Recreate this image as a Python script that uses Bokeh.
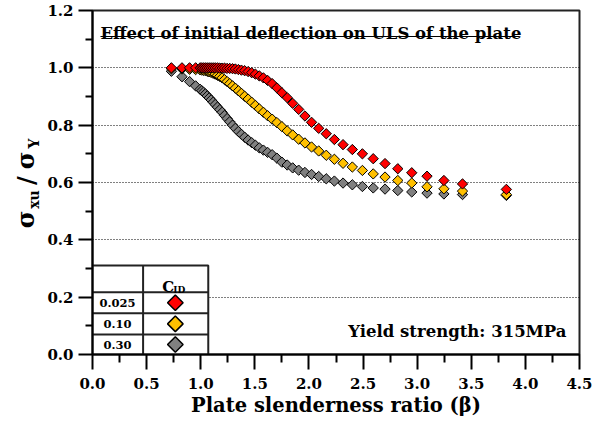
import math
from bokeh.plotting import figure
from bokeh.layouts import row
from bokeh.models import Range1d, FixedTicker, PrintfTickFormatter, Label
from bokeh.embed import file_html
from bokeh.resources import INLINE

# ---------------- data ----------------
beta = [0.729, 0.827, 0.897, 0.953, 0.995, 1.010, 1.026, 1.043, 1.060, 1.078,
        1.096, 1.115, 1.134, 1.155, 1.176, 1.198, 1.220, 1.244, 1.268, 1.294,
        1.320, 1.348, 1.376, 1.406, 1.438, 1.471, 1.505, 1.541, 1.579, 1.618,
        1.660, 1.704, 1.750, 1.799, 1.850, 1.905, 1.963, 2.024, 2.090, 2.160,
        2.235, 2.315, 2.401, 2.494, 2.594, 2.703, 2.821, 2.950, 3.091, 3.247,
        3.419, 3.824]

ratio_c025 = [1.000, 1.000, 1.000, 1.000, 1.000, 1.000, 1.000, 1.000, 1.000, 1.000,
              1.000, 1.000, 1.000, 1.000, 0.999, 0.999, 0.999, 0.998, 0.998, 0.997,
              0.996, 0.994, 0.992, 0.990, 0.987, 0.983, 0.978, 0.972, 0.965, 0.956,
              0.945, 0.930, 0.913, 0.896, 0.876, 0.855, 0.832, 0.810, 0.789, 0.770,
              0.750, 0.732, 0.715, 0.700, 0.683, 0.666, 0.648, 0.634, 0.622, 0.607,
              0.595, 0.576]

ratio_c010 = [0.997, 0.996, 0.995, 0.994, 0.993, 0.992, 0.991, 0.990, 0.988, 0.986,
              0.984, 0.981, 0.978, 0.974, 0.970, 0.965, 0.959, 0.952, 0.945, 0.937,
              0.929, 0.920, 0.911, 0.901, 0.891, 0.880, 0.869, 0.857, 0.845, 0.833,
              0.821, 0.809, 0.795, 0.780, 0.766, 0.751, 0.738, 0.724, 0.710, 0.695,
              0.681, 0.667, 0.654, 0.642, 0.630, 0.619, 0.607, 0.598, 0.585, 0.578,
              0.570, 0.558]

ratio_c030 = [0.988, 0.969, 0.952, 0.937, 0.925, 0.920, 0.915, 0.909, 0.902, 0.895,
              0.888, 0.880, 0.872, 0.863, 0.854, 0.845, 0.834, 0.823, 0.812, 0.800,
              0.789, 0.778, 0.768, 0.758, 0.748, 0.739, 0.730, 0.721, 0.713, 0.705,
              0.697, 0.685, 0.671, 0.661, 0.651, 0.643, 0.635, 0.628, 0.621, 0.613,
              0.605, 0.598, 0.592, 0.586, 0.581, 0.577, 0.572, 0.567, 0.563, 0.560,
              0.558, 0.555]

cid_labels = ["0.025", "0.10", "0.30"]
series_colors = ["#FF0000", "#FFC000", "#808080"]

x_ticks = [0.0, 0.5, 1.0, 1.5, 2.0, 2.5, 3.0, 3.5, 4.0, 4.5]
x_minor = [0.25, 0.75, 1.25, 1.75, 2.25, 2.75, 3.25, 3.75, 4.25]
y_ticks = [0.0, 0.2, 0.4, 0.6, 0.8, 1.0, 1.2]
y_minor = [0.1, 0.3, 0.5, 0.7, 0.9, 1.1]

FONT = "DejaVu Serif"

# ---------------- layout sizes (page pixels) ----------------
TOTAL_W, TOTAL_H = 603, 427
LW = 44                      # narrow strip holding the y-axis title
FL, FR, FT, FB = 91, 579, 10, 354   # frame edges on the page
W = TOTAL_W - LW

p = figure(width=W, height=TOTAL_H, x_range=Range1d(0, 4.5), y_range=Range1d(0, 1.2),
           output_backend="svg", toolbar_location=None,
           min_border_left=FL - LW, min_border_right=TOTAL_W - FR,
           min_border_top=FT, min_border_bottom=TOTAL_H - FB)
p.background_fill_color = "white"
p.border_fill_color = "white"
p.outline_line_color = "#222222"
p.outline_line_width = 2

def px2x(px):
    return (px - FL) * 4.5 / (FR - FL)
def py2y(py):
    return (FB - py) * 1.2 / (FB - FT)

for ax, ticks, minor, tout, mout, stand in (
        (p.xaxis, x_ticks, x_minor, 15, 8, 8),
        (p.yaxis, y_ticks, y_minor, 14, 7, 5)):
    ax.ticker = FixedTicker(ticks=ticks, minor_ticks=minor)
    ax.formatter = PrintfTickFormatter(format="%.1f")
    ax.axis_line_width = 2
    ax.axis_line_color = "black"
    ax.major_tick_line_width = 2
    ax.minor_tick_line_width = 2
    ax.major_tick_line_color = "black"
    ax.minor_tick_line_color = "black"
    ax.major_tick_in = 0
    ax.major_tick_out = tout
    ax.minor_tick_in = 0
    ax.minor_tick_out = mout
    ax.major_label_standoff = stand
    ax.major_label_text_font = FONT
    ax.major_label_text_font_style = "bold"
    ax.major_label_text_font_size = "15px"
    ax.major_label_text_color = "black"

p.xaxis.axis_label = "Plate slenderness ratio (\u03b2)"
p.xaxis.axis_label_text_font = FONT
p.xaxis.axis_label_text_font_style = "bold"
p.xaxis.axis_label_text_font_size = "19.5px"
p.xaxis.axis_label_text_color = "black"
p.xaxis.axis_label_standoff = 2

p.xgrid.visible = False
p.ygrid.ticker = FixedTicker(ticks=[0.2, 0.4, 0.6, 0.8, 1.0])
p.ygrid.grid_line_color = "black"
p.ygrid.grid_line_dash = "1 2"
p.ygrid.grid_line_width = 1

# data series (grey first, red on top)
for ys, col in ((ratio_c030, series_colors[2]), (ratio_c010, series_colors[1]),
                (ratio_c025, series_colors[0])):
    p.scatter(beta, ys, marker="square", angle=math.pi / 4, size=7.3,
              fill_color=col, line_color="black", line_width=1)

# legend table
tx0, tx1, tdiv = px2x(91), px2x(207), px2x(141.7)
ty_top = py2y(265)
row_lines = [py2y(291.7), py2y(312.7), py2y(334)]
p.quad(left=[tx0], right=[tx1], top=[ty_top], bottom=[0], fill_color="white",
       line_color="#222222", line_width=2)
p.segment(x0=[tx0] * 3, x1=[tx1] * 3, y0=row_lines, y1=row_lines,
          line_color="#222222", line_width=2)
p.segment(x0=[tdiv], x1=[tdiv], y0=[0], y1=[ty_top], line_color="#222222", line_width=2)
row_centers = [(row_lines[0] + row_lines[1]) / 2, (row_lines[1] + row_lines[2]) / 2,
               row_lines[2] / 2]
p.scatter([px2x(174)] * 3, row_centers, marker="square", angle=math.pi / 4, size=11,
          fill_color=series_colors, line_color="black", line_width=1.5)
for lab, yc in zip(cid_labels, row_centers):
    p.add_layout(Label(x=px2x(116), y=yc, text=lab, text_align="center",
                       text_baseline="middle", text_font=FONT, text_font_style="bold",
                       text_font_size="11.5px", text_color="black"))
p.add_layout(Label(x=px2x(161), y=py2y(286.5), text="C", text_align="left",
                   text_baseline="alphabetic", text_font=FONT, text_font_style="bold",
                   text_font_size="15px", text_color="black"))
p.add_layout(Label(x=px2x(172), y=py2y(289.5), text="ID", text_align="left",
                   text_baseline="alphabetic", text_font=FONT, text_font_style="bold",
                   text_font_size="9px", text_color="black"))

# title with underline
p.add_layout(Label(x=px2x(99), y=py2y(33), text="Effect of initial deflection on ULS of the plate",
                   text_align="left", text_baseline="alphabetic", text_font=FONT,
                   text_font_style="bold", text_font_size="16.5px", text_color="black"))
p.segment(x0=[px2x(99)], x1=[px2x(519)], y0=[py2y(36)], y1=[py2y(36)],
          line_color="black", line_width=1.2)

# yield strength note
p.add_layout(Label(x=px2x(566), y=py2y(331), text="Yield strength: 315MPa",
                   text_align="right", text_baseline="alphabetic", text_font=FONT,
                   text_font_style="bold", text_font_size="16.5px", text_color="black"))

# ---------------- y-axis title strip ----------------
# (its frame is aligned with the main frame by the row layout: page y 10..354)
q = figure(width=LW, height=TOTAL_H, x_range=Range1d(0, LW), y_range=Range1d(0, FB - FT),
           output_backend="svg", toolbar_location=None, x_axis_type=None, y_axis_type=None,
           min_border=0, min_border_left=0, min_border_right=0,
           min_border_top=FT, min_border_bottom=TOTAL_H - FB)
q.outline_line_color = None
q.grid.visible = False
q.background_fill_color = "white"
q.border_fill_color = "white"

# (text, centre x, centre y on the page, font size)
ypieces = [("\u03c3", 25, 219, "24px"), ("xu", 33, 199, "14px"), ("/", 26, 180, "24px"),
           ("\u03c3", 25, 160, "24px"), ("Y", 33, 143, "14px")]
for txt, cx, cy, fs in ypieces:
    q.add_layout(Label(x=cx, y=FB - cy, text=txt, angle=math.pi / 2,
                       text_align="center", text_baseline="middle", text_font=FONT,
                       text_font_style="bold", text_font_size=fs, text_color="black"))

layout = row(q, p, spacing=0)
open("out.html", "w").write(file_html(layout, INLINE))
